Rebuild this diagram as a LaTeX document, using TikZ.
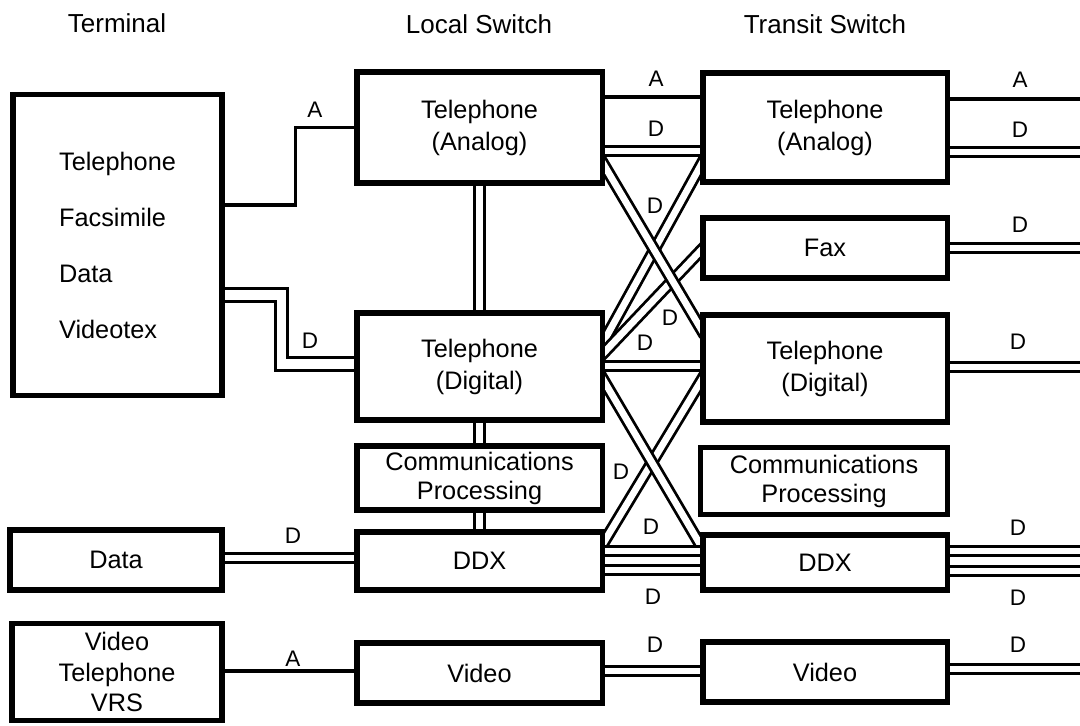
\documentclass[tikz,border=0pt]{standalone}
\usepackage{fontspec}
\setmainfont{Liberation Sans}
\usetikzlibrary{calc}
\pgfdeclarelayer{bg}
\pgfsetlayers{bg,main}
\tikzset{
  box/.style={draw, line width=3.6pt, fill=white, inner sep=0pt, align=center,
    font=\fontsize{18}{22.8}\selectfont},
  head/.style={font=\fontsize{18.5}{22}\selectfont},
  lbl/.style={font=\fontsize{16}{19}\selectfont, inner sep=0pt},
  aline/.style={line width=2.2pt},
  dline/.style={double, line width=2pt, double distance=4.8pt},
  into/.style={shorten <=-6pt, shorten >=-6pt}
}

\begin{document}
\begin{tikzpicture}[x=0.025cm, y=-0.025cm]
\useasboundingbox (0,0) rectangle (1080,725);
% column heads
\node[head] (hterm) at (117,23) {Terminal};
\node[head] (hloc) at (479,24) {Local Switch};
\node[head] (htr) at (825,24) {Transit Switch};
% terminals
\node[box, minimum width=5.225cm, minimum height=7.5cm, align=left,
  font=\fontsize{18}{39.8}\selectfont] (term) at (117.5,245)
  {Telephone\\Facsimile\\Data\\Videotex};
\node[box, minimum width=5.3cm, minimum height=1.5cm] (termdata) at (116,560) {Data};
\node[box, minimum width=5.25cm, minimum height=2.425cm,
  font=\fontsize{18}{22}\selectfont] (termvid) at (117,672) {Video\\Telephone\\VRS};
% local switch
\node[box, minimum width=6.125cm, minimum height=2.775cm] (locana) at (479.5,127.5) {Telephone\\(Analog)};
\node[box, minimum width=6.125cm, minimum height=2.675cm] (locdig) at (479.5,366.5) {Telephone\\(Digital)};
\node[box, minimum width=6.125cm, minimum height=1.6cm,
  font=\fontsize{18}{20.6}\selectfont] (loccp) at (479.5,478) {Communications\\Processing};
\node[box, minimum width=6.125cm, minimum height=1.45cm] (locddx) at (479.5,561) {DDX};
\node[box, minimum width=6.125cm, minimum height=1.5cm] (locvid) at (479.5,673) {Video};
% transit switch
\node[box, minimum width=6.1cm, minimum height=2.725cm] (trana) at (825,127.5) {Telephone\\(Analog)};
\node[box, minimum width=6.1cm, minimum height=1.5cm] (trfax) at (825,248) {Fax};
\node[box, minimum width=6.1cm, minimum height=2.675cm] (trdig) at (825,368.5) {Telephone\\(Digital)};
\node[box, minimum width=6.175cm, minimum height=1.675cm,
  font=\fontsize{18}{20.6}\selectfont] (trcp) at (824,481) {Communications\\Processing};
\node[box, minimum width=6.1cm, minimum height=1.375cm] (trddx) at (825,562.5) {DDX};
\node[box, minimum width=6.1cm, minimum height=1.5cm] (trvid) at (825,672) {Video};
\coordinate (edge) at (1085,0);

\begin{pgfonlayer}{bg}
% crossing trunks
\draw[dline, into] (trana.west |- 0,166) -- (locdig.east |- 0,340);
\draw[dline, into] (trfax.west |- 0,251) -- (locdig.east |- 0,352);
\draw[dline, into] (trdig.west |- 0,382) -- (locddx.east |- 0,541);
\draw[dline, into] (locana.east |- 0,166) -- (trdig.west |- 0,328);
\draw[dline, into] (locdig.east |- 0,382) -- (trddx.west |- 0,545);
% terminal to local
\draw[aline] (term.east |- 0,205) -- ++(71,0) |- (locana.west);
\draw[dline, double distance=7pt] (term.east |- 0,295) -- ++(57,0) |- (locdig.west |- 0,364);
\draw[dline] (termdata.east |- 0,558) -- (locddx.west |- 0,558);
\draw[aline] (termvid.east |- 0,671) -- (locvid.west |- 0,671);
% inside the local switch
\draw[dline] (locana.south) -- (locdig.north);
\draw[dline] (locdig.south) -- (loccp.north);
\draw[dline] (loccp.south) -- (locddx.north);
% local to transit
\draw[aline] (locana.east |- 0,97) -- (trana.west |- 0,97);
\draw[dline] (locana.east |- 0,151) -- (trana.west |- 0,151);
\draw[dline] (locdig.east |- 0,366) -- (trdig.west |- 0,366);
\draw[dline] (locddx.east |- 0,551) -- (trddx.west |- 0,551);
\draw[dline] (locddx.east |- 0,570) -- (trddx.west |- 0,570);
\draw[dline] (locvid.east |- 0,671) -- (trvid.west |- 0,671);
% transit outgoing
\draw[aline] (trana.east |- 0,99) -- (edge |- 0,99);
\draw[dline] (trana.east |- 0,152) -- (edge |- 0,152);
\draw[dline] (trfax.east |- 0,248) -- (edge |- 0,248);
\draw[dline] (trdig.east |- 0,367) -- (edge |- 0,367);
\draw[dline] (trddx.east |- 0,551) -- (edge |- 0,551);
\draw[dline] (trddx.east |- 0,571) -- (edge |- 0,571);
\draw[dline] (trvid.east |- 0,669) -- (edge |- 0,669);
\end{pgfonlayer}

% line labels
\node[lbl] (aterm) at (315,110) {A};
\node[lbl] (dterm) at (310,341) {D};
\node[lbl] (ddata) at (293,536) {D};
\node[lbl] (avid) at (293,659) {A};
\node[lbl] (aana) at (656,79) {A};
\node[lbl] (dana) at (656,129) {D};
\node[lbl] (dx1) at (655,206) {D};
\node[lbl] (dx2) at (670,318) {D};
\node[lbl] (dx3) at (645,343) {D};
\node[lbl] (dx4) at (621,472) {D};
\node[lbl] (dx5) at (651,527) {D};
\node[lbl] (dddx) at (653,597) {D};
\node[lbl] (dvid) at (655,645) {D};
\node[lbl] (oana) at (1020,80) {A};
\node[lbl] (odana) at (1020,130) {D};
\node[lbl] (ofax) at (1020,225) {D};
\node[lbl] (odig) at (1018,342) {D};
\node[lbl] (oddx1) at (1018,528) {D};
\node[lbl] (oddx2) at (1018,598) {D};
\node[lbl] (ovid) at (1018,645) {D};
\end{tikzpicture}
\end{document}
